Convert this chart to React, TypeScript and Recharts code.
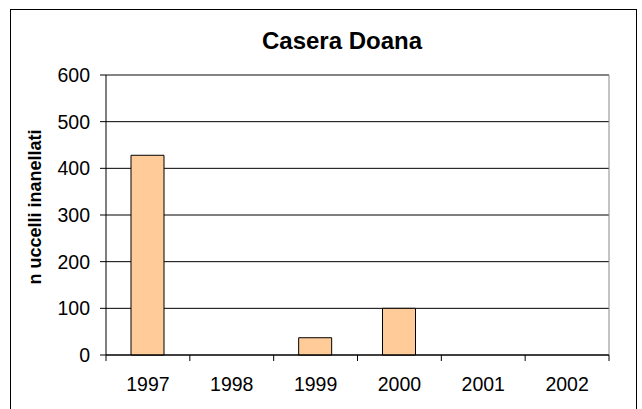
import React from 'react';
import { BarChart, Bar, XAxis, YAxis, CartesianGrid, ReferenceLine } from 'recharts';

const years = ['1997', '1998', '1999', '2000', '2001', '2002'];
const birds = [428, 0, 37, 100, 0, 0];
const yTicks = [0, 100, 200, 300, 400, 500, 600];

const data = years.map((year, i) => ({ year, value: birds[i] }));

const W = 642;
const H = 409;
const PLOT_LEFT = 106;
const PLOT_RIGHT = 609;
const BAND = (PLOT_RIGHT - PLOT_LEFT) / years.length;
const FONT = 'Arial, "Liberation Sans", sans-serif';

// category label in the middle, tick marks on the boundaries
const YearTick = (props: any) => {
  const { x, y, payload, index } = props;
  const left = x - BAND / 2;
  const isLast = index === years.length - 1;
  return (
    <g>
      <line x1={left} y1={y - 8} x2={left} y2={y - 2} stroke="#000" />
      {isLast && <line x1={left + BAND} y1={y - 8} x2={left + BAND} y2={y - 2} stroke="#000" />}
      <text x={x} y={y + 28} textAnchor="middle" fontSize={19.5} fontFamily={FONT} fill="#000">
        {payload.value}
      </text>
    </g>
  );
};

export default function App() {
  return (
    <div style={{ position: 'absolute', left: 0, top: 0, width: W, height: H, overflow: 'hidden', background: '#fff' }}>
      <div
        style={{
          position: 'absolute',
          left: 10,
          top: 9,
          width: 627,
          height: 430,
          border: '1.5px solid #000',
          boxSizing: 'border-box',
        }}
      />
      <div
        style={{
          position: 'absolute',
          left: 0,
          top: 28,
          width: 684,
          textAlign: 'center',
          fontFamily: FONT,
          fontWeight: 'bold',
          fontSize: 24,
          lineHeight: '26px',
        }}
      >
        Casera Doana
      </div>
      <div style={{ position: 'absolute', left: 0, top: 0 }}>
        <BarChart
          width={W}
          height={H}
          data={data}
          margin={{ top: 75, right: W - PLOT_RIGHT, bottom: 0, left: 0 }}
        >
          <CartesianGrid horizontal vertical={false} stroke="#000" strokeOpacity={1} />
          <ReferenceLine y={600} stroke="#888" />
          <CartesianGrid horizontal={false} vertical verticalPoints={[PLOT_RIGHT]} stroke="#888" />
          <XAxis
            dataKey="year"
            axisLine={{ stroke: '#000' }}
            tickLine={false}
            tick={<YearTick />}
            interval={0}
            height={H - 355}
          />
          <YAxis
            width={PLOT_LEFT}
            domain={[0, 600]}
            ticks={yTicks}
            interval={0}
            axisLine={{ stroke: '#000' }}
            tickLine={{ stroke: '#000' }}
            tickSize={6}
            tickMargin={10}
            tick={{ fill: '#000', fontSize: 19.5, fontFamily: FONT }}
            label={{
              value: 'n uccelli inanellati',
              angle: -90,
              position: 'insideLeft',
              dx: 30,
              dy: -8,
              style: { textAnchor: 'middle', fontSize: 18, fontWeight: 'bold', fontFamily: FONT, fill: '#000' },
            }}
          />
          <Bar dataKey="value" fill="#FFCC99" stroke="#000" strokeWidth={1} barSize={33} isAnimationActive={false} />
        </BarChart>
      </div>
    </div>
  );
}
